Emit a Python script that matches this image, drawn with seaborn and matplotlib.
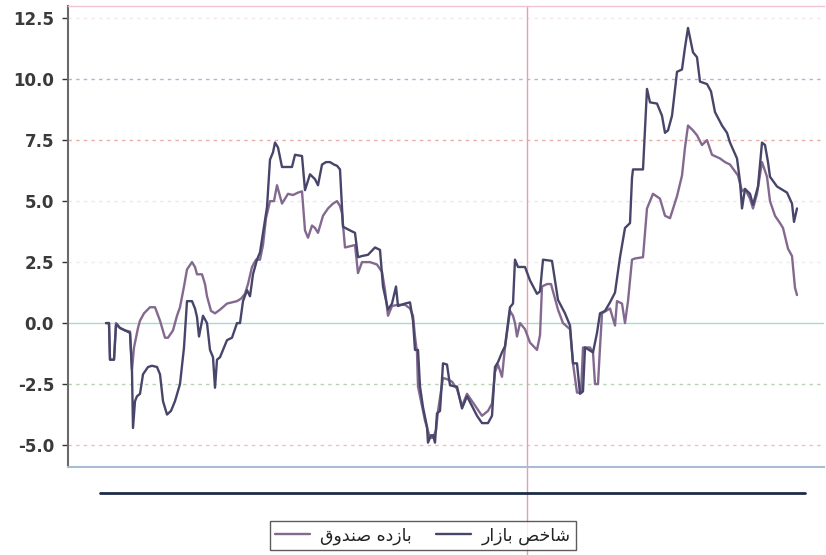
import matplotlib
matplotlib.use("Agg")
import matplotlib.pyplot as plt
from matplotlib.lines import Line2D
import seaborn as sns
import pandas as pd

# ---------------- data ----------------
fund_label = "بازده صندوق"
market_label = "شاخص بازار"

fund_t = [0, 3, 4, 8, 10, 11, 14, 19, 24, 26, 28, 32, 34, 38, 44, 49, 54, 59, 62, 67,
          71, 74, 78, 81, 86, 89, 91, 96, 99, 101, 105, 109, 114, 121, 126, 131, 135, 139, 142, 146,
          150, 154, 157, 160, 164, 168, 171, 174, 176, 179, 182, 187, 192, 196, 199, 202, 206, 209, 212, 217,
          222, 227, 231, 234, 236, 239, 244, 249, 252, 256, 264, 271, 276, 279, 282, 286, 292, 299, 304, 307,
          309, 311, 312, 316, 319, 324, 327, 330, 332, 337, 341, 346, 351, 356, 361, 366, 371, 376, 382, 386,
          389, 392, 396, 399, 404, 407, 409, 411, 414, 419, 424, 431, 434, 436, 441, 445, 449, 452, 457, 464,
          467, 471, 475, 477, 484, 487, 489, 492, 494, 496, 504, 509, 511, 516, 519, 522, 526, 529, 537, 541,
          547, 554, 559, 564, 571, 576, 579, 582, 587, 591, 596, 601, 606, 614, 619, 624, 632, 636, 639, 644,
          647, 651, 656, 661, 664, 669, 674, 677, 682, 686, 689, 691]
fund_v = [0.0, 0.0, -1.5, -1.5, 0.0, -0.1, -0.2, -0.3, -0.35, -1.9, -1.0, -0.2, 0.1, 0.4, 0.65, 0.65, 0.1, -0.6, -0.6, -0.3,
          0.3, 0.65, 1.5, 2.2, 2.5, 2.3, 2.0, 2.0, 1.6, 1.1, 0.5, 0.4, 0.55, 0.8, 0.85, 0.9, 1.0, 1.2, 1.6, 2.3,
          2.6, 2.6, 3.2, 4.3, 5.0, 5.0, 5.65, 5.2, 4.9, 5.1, 5.3, 5.25, 5.35, 5.4, 3.8, 3.5, 4.0, 3.9, 3.7, 4.4,
          4.7, 4.9, 5.0, 4.8, 4.5, 3.1, 3.15, 3.2, 2.05, 2.5, 2.5, 2.4, 2.1, 1.35, 0.3, 0.7, 0.75, 0.75, 0.6, 0.3,
          -0.55, -1.2, -2.6, -3.4, -4.0, -4.7, -4.7, -4.4, -3.6, -2.25, -2.3, -2.4, -2.7, -3.4, -2.9, -3.2, -3.5, -3.8, -3.6, -3.3,
          -2.0, -1.7, -2.2, -1.0, 0.5, 0.3, 0.0, -0.55, 0.0, -0.25, -0.8, -1.1, -0.5, 1.5, 1.6, 1.6, 1.0, 0.55, 0.0, -0.25,
          -1.65, -2.85, -2.85, -1.0, -1.0, -1.2, -2.5, -2.5, -1.0, 0.4, 0.6, -0.1, 0.9, 0.8, 0.0, 0.9, 2.6, 2.65, 2.7, 4.7,
          5.3, 5.1, 4.4, 4.3, 5.2, 6.05, 7.2, 8.1, 7.9, 7.7, 7.3, 7.5, 6.9, 6.75, 6.6, 6.5, 6.05, 5.4, 5.5, 5.1,
          4.7, 5.3, 6.6, 6.0, 5.0, 4.4, 4.1, 3.9, 3.05, 2.75, 1.45, 1.15]

market_t = [0, 3, 4, 8, 10, 11, 14, 19, 24, 26, 27, 29, 31, 34, 37, 42, 46, 51, 54, 57,
            61, 65, 69, 74, 78, 81, 86, 89, 91, 93, 97, 101, 104, 107, 109, 111, 114, 118, 121, 126,
            131, 134, 137, 141, 144, 147, 151, 154, 157, 161, 164, 167, 169, 172, 176, 181, 186, 189, 196, 199,
            204, 209, 212, 216, 220, 224, 228, 231, 234, 237, 244, 249, 252, 256, 262, 269, 274, 277, 282, 286,
            290, 292, 299, 304, 307, 309, 312, 314, 317, 321, 322, 325, 327, 329, 331, 334, 337, 341, 344, 349,
            351, 356, 361, 366, 371, 376, 382, 386, 389, 392, 396, 399, 404, 407, 409, 412, 419, 424, 431, 434,
            437, 446, 449, 452, 459, 464, 467, 471, 474, 477, 479, 487, 491, 494, 499, 504, 509, 514, 519, 524,
            526, 527, 537, 541, 544, 551, 556, 559, 562, 566, 571, 576, 579, 582, 587, 591, 594, 601, 605, 609,
            616, 621, 624, 631, 634, 636, 639, 644, 647, 652, 656, 659, 662, 664, 671, 681, 686, 688, 691]
market_v = [0.0, 0.0, -1.5, -1.5, -0.1, -0.05, -0.2, -0.3, -0.4, -2.0, -4.3, -3.2, -3.0, -2.9, -2.1, -1.8, -1.75, -1.8, -2.1, -3.2,
            -3.75, -3.6, -3.2, -2.5, -1.0, 0.9, 0.9, 0.6, 0.25, -0.55, 0.3, 0.0, -1.1, -1.4, -2.65, -1.5, -1.4, -1.0, -0.7, -0.6,
            0.0, 0.0, 0.9, 1.35, 1.1, 2.0, 2.6, 2.9, 3.7, 4.75, 6.7, 7.0, 7.4, 7.2, 6.4, 6.4, 6.4, 6.9, 6.85, 5.45,
            6.1, 5.9, 5.65, 6.5, 6.6, 6.6, 6.5, 6.45, 6.3, 3.95, 3.8, 3.7, 2.7, 2.75, 2.8, 3.1, 3.0, 1.5, 0.55, 0.8,
            1.5, 0.7, 0.8, 0.85, 0.1, -1.1, -1.1, -2.6, -3.45, -4.25, -4.9, -4.6, -4.6, -4.9, -3.7, -3.6, -1.65, -1.7, -2.55, -2.6,
            -2.6, -3.5, -3.0, -3.4, -3.8, -4.1, -4.1, -3.8, -1.8, -1.6, -1.2, -0.95, 0.65, 0.8, 2.6, 2.3, 2.3, 1.75, 1.2, 1.3,
            2.6, 2.55, 1.75, 0.95, 0.4, -0.1, -1.65, -1.65, -2.9, -2.8, -1.0, -1.2, -0.4, 0.4, 0.5, 0.85, 1.25, 2.7, 3.9, 4.1,
            5.95, 6.3, 6.3, 9.6, 9.05, 9.0, 8.5, 7.8, 7.9, 8.5, 10.3, 10.4, 11.3, 12.1, 11.1, 10.9, 9.9, 9.8, 9.5, 8.65,
            8.1, 7.8, 7.4, 6.75, 5.8, 4.7, 5.5, 5.3, 4.85, 5.6, 7.4, 7.3, 6.6, 6.0, 5.6, 5.35, 4.9, 4.15, 4.7]

y_ticks = [-5.0, -2.5, 0.0, 2.5, 5.0, 7.5, 10.0, 12.5]
crosshair_t = 421

# ---------------- minimal Arabic-script shaping for display ----------------
FORMS = {
    'ا': ('\uFE8D', '\uFE8E', None, None),
    'ب': ('\uFE8F', '\uFE90', '\uFE91', '\uFE92'),
    'خ': ('\uFEA5', '\uFEA6', '\uFEA7', '\uFEA8'),
    'د': ('\uFEA9', '\uFEAA', None, None),
    'ر': ('\uFEAD', '\uFEAE', None, None),
    'ز': ('\uFEAF', '\uFEB0', None, None),
    'ش': ('\uFEB5', '\uFEB6', '\uFEB7', '\uFEB8'),
    'ص': ('\uFEB9', '\uFEBA', '\uFEBB', '\uFEBC'),
    'ق': ('\uFED5', '\uFED6', '\uFED7', '\uFED8'),
    'ن': ('\uFEE5', '\uFEE6', '\uFEE7', '\uFEE8'),
    'ه': ('\uFEE9', '\uFEEA', '\uFEEB', '\uFEEC'),
    'و': ('\uFEED', '\uFEEE', None, None),
}


def shape(s):
    out = []
    for i, c in enumerate(s):
        if c not in FORMS:
            out.append(c)
            continue
        f = FORMS[c]
        prev = s[i - 1] if i > 0 else None
        nxt = s[i + 1] if i + 1 < len(s) else None
        jp = prev in FORMS and FORMS[prev][2] is not None
        jn = nxt in FORMS and f[2] is not None
        if jp and jn:
            out.append(f[3])
        elif jp:
            out.append(f[1])
        elif jn:
            out.append(f[2])
        else:
            out.append(f[0])
    return ''.join(reversed(out))


# ---------------- plot ----------------
sns.set_theme(style="white")
plt.rcParams['font.family'] = ['DejaVu Sans']

fig = plt.figure(figsize=(8.26, 5.55), dpi=100)
ax = fig.add_axes([68 / 826, 1 - 467 / 555, (824 - 68) / 826, (467 - 6) / 555])

fund_df = pd.DataFrame({"t": fund_t, "v": fund_v})
market_df = pd.DataFrame({"t": market_t, "v": market_v})

fund_color = "#83698f"
market_color = "#47456a"

grid_colors = ["#f2bccb", "#b9d2b4", "#a6dccb", "#ececf4", "#f2e4ec", "#e9b0a8", "#bcaee2", "#f4e8f0"]
for v, c in zip(y_ticks, grid_colors):
    ls = "-" if v == 0 else (0, (2.5, 3))
    ax.axhline(v, color=c, lw=1.0, ls=ls, zorder=0)

sns.lineplot(data=fund_df, x="t", y="v", ax=ax, color=fund_color, lw=1.7,
             label=shape(fund_label), estimator=None, sort=False)
sns.lineplot(data=market_df, x="t", y="v", ax=ax, color=market_color, lw=1.7,
             label=shape(market_label), estimator=None, sort=False)

ax.axvline(crosshair_t, ymin=-0.2, ymax=1.0, color="#e6a0aa", lw=1.0, clip_on=False, zorder=1)

ax.set_xlim(-38, 718)
ax.set_ylim(-5.9, 13.0)
ax.set_yticks(y_ticks)
ax.set_yticklabels([f"{v:.1f}" for v in y_ticks])
ax.set_xticks([])
ax.set_xlabel("")
ax.set_ylabel("")
ax.tick_params(axis="y", left=True, length=4, width=1, pad=6, colors="#333333",
               labelsize=12)
for lab in ax.get_yticklabels():
    lab.set_fontweight("bold")
    lab.set_color("#3a3a3a")

for side in ["left", "bottom", "top", "right"]:
    ax.spines[side].set_visible(True)
ax.spines["left"].set_color("#6a6a6a")
ax.spines["left"].set_linewidth(1.5)
ax.spines["bottom"].set_color("#a9bcd4")
ax.spines["bottom"].set_linewidth(1.5)
ax.spines["top"].set_color("#efc4d4")
ax.spines["top"].set_linewidth(1.0)
ax.spines["right"].set_visible(False)

# separator line below the plot
fig.add_artist(Line2D([100 / 826, 805 / 826], [1 - 493 / 555] * 2, color="#1e2a48", lw=2.0))

handles, labels = ax.get_legend_handles_labels()
ax.get_legend().remove()
leg = fig.legend(handles, labels, loc="center", bbox_to_anchor=(0.512, 0.035), ncol=2,
                 frameon=True, fancybox=False, edgecolor="#333333", fontsize=12.5,
                 handlelength=2.0, handletextpad=0.6, columnspacing=1.4, borderpad=0.3,
                 borderaxespad=0)
leg.get_frame().set_linewidth(1.0)
for txt in leg.get_texts():
    txt.set_color("#222222")

fig.savefig("out.png", dpi=100)
